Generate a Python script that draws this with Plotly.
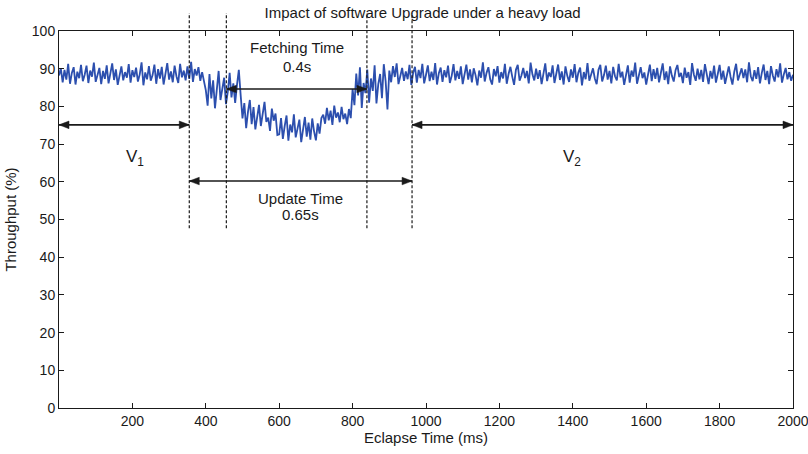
import plotly.graph_objects as go

# Time axis: one sample every 5 ms from 0 to 2000 ms
time_step_ms = 5

# Throughput (%), 20 samples (100 ms) per row
throughput = [
    88.2, 90.1, 86.4, 89.7, 87.1, 91.3, 86.0, 88.9, 90.4, 85.8, 89.2, 87.5, 91.0, 86.7, 88.4, 90.8, 86.2, 89.5, 87.9, 91.6,
    86.5, 88.8, 90.2, 85.9, 89.4, 87.3, 90.9, 86.1, 88.6, 91.4, 87.0, 89.8, 85.7, 88.1, 90.6, 86.9, 89.1, 87.6, 91.2, 86.3,
    89.6, 87.8, 90.3, 86.6, 88.5, 91.7, 85.6, 89.0, 87.2, 90.7, 86.8, 88.3, 91.1, 86.0, 89.9, 87.4, 90.5, 85.8, 88.7, 91.5,
    87.1, 89.3, 86.4, 90.8, 88.0, 86.2, 91.3, 87.7, 89.5, 86.9, 90.6, 87.3, 91.8, 86.5, 89.9, 88.2, 90.4, 86.8, 89.1, 87.0,
    84.3, 80.2, 88.6, 82.1, 86.9, 79.5, 85.2, 89.4, 81.7, 84.8, 87.6, 80.6, 83.9, 88.9, 82.4, 86.1, 80.9, 85.7, 89.7, 83.0,
    76.8, 80.9, 74.2, 78.6, 81.7, 75.3, 79.8, 73.9, 77.5, 80.4, 74.8, 78.1, 81.2, 75.9, 77.0, 73.5, 79.4, 76.2, 78.1, 72.4,
    72.6, 76.9, 71.4, 74.8, 77.6, 70.9, 75.2, 73.1, 77.9, 71.8, 74.3, 76.5, 70.5, 73.8, 77.2, 72.0, 75.7, 71.2, 76.8, 73.4,
    71.0, 75.5, 72.8, 76.9, 77.8, 75.4, 79.6, 76.3, 78.9, 75.1, 80.2, 77.0, 78.4, 75.8, 79.9, 76.6, 78.1, 75.3, 79.3, 76.9,
    84.6, 80.3, 88.7, 82.9, 90.4, 79.6, 86.2, 83.5, 89.8, 81.0, 87.4, 84.1, 90.9, 80.8, 85.9, 88.6, 82.2, 91.2, 86.7, 79.2,
    89.5, 86.4, 90.7, 87.8, 91.4, 85.9, 88.6, 90.2, 86.8, 89.3, 87.2, 91.0, 85.7, 88.9, 90.5, 86.3, 89.7, 87.5, 91.3, 86.1,
    88.4, 90.9, 86.7, 89.2, 87.0, 91.5, 85.8, 88.8, 90.3, 86.5, 89.6, 87.7, 90.8, 86.2, 88.1, 91.2, 86.9, 89.4, 87.3, 90.6,
    85.9, 88.7, 91.1, 87.1, 89.8, 86.4, 90.1, 88.3, 85.6, 89.5, 87.6, 91.7, 86.6, 88.9, 90.4, 87.2, 85.8, 89.9, 88.0, 90.7,
    86.3, 89.1, 87.4, 91.3, 86.0, 88.6, 90.5, 87.9, 85.7, 89.7, 91.0, 86.8, 88.2, 90.2, 87.5, 89.4, 86.1, 91.6, 88.5, 86.9,
    90.0, 87.3, 89.6, 85.9, 88.8, 91.4, 86.7, 89.0, 87.8, 90.9, 86.2, 88.4, 91.1, 87.0, 89.3, 85.8, 90.6, 88.1, 86.5, 89.8,
    87.6, 91.2, 86.4, 88.9, 90.3, 85.6, 89.1, 87.2, 91.5, 86.8, 88.6, 90.1, 87.4, 85.9, 89.7, 91.0, 86.6, 88.3, 90.8, 87.1,
    89.4, 86.1, 90.5, 88.0, 86.9, 91.3, 87.7, 89.2, 85.7, 88.7, 90.9, 86.3, 89.5, 87.9, 91.6, 86.0, 88.2, 90.4, 87.5, 89.0,
    85.8, 88.5, 91.1, 86.7, 89.9, 87.3, 90.2, 86.4, 88.8, 91.4, 87.0, 89.3, 85.9, 90.6, 88.1, 86.6, 89.6, 91.0, 87.8, 88.9,
    86.2, 90.3, 87.6, 89.1, 85.7, 91.5, 88.4, 86.8, 90.0, 87.2, 89.7, 86.5, 91.2, 88.0, 85.9, 89.4, 87.4, 90.8, 86.3, 88.6,
    91.0, 87.1, 89.5, 86.0, 88.7, 90.6, 87.8, 85.8, 89.2, 91.3, 86.9, 88.3, 90.1, 87.5, 89.8, 86.4, 91.7, 88.0, 86.7, 89.6,
    87.3, 90.4, 86.1, 88.9, 91.1, 87.0, 89.4, 85.9, 90.7, 88.2, 86.6, 89.9, 87.7, 91.4, 86.3, 88.5, 90.2, 87.2, 89.1, 86.8,
    88.4,
]
time_ms = [i * time_step_ms for i in range(len(throughput))]

# Event markers (ms)
event_times = [355, 456, 839, 962]
x_ticks = [200, 400, 600, 800, 1000, 1200, 1400, 1600, 1800, 2000]
y_ticks = [0, 10, 20, 30, 40, 50, 60, 70, 80, 90, 100]

# double-headed arrows: (start ms, end ms, level %)
arrows = [
    (0, 355, 75.1),      # V1
    (962, 2000, 75.1),   # V2
    (355, 962, 60.2),    # Update time
    (456, 839, 84.6),    # Fetching time
]

texts = [
    (208, 66.3, "V<sub>1</sub>", 17),
    (1397, 66.3, "V<sub>2</sub>", 17),
    (648, 95.5, "Fetching Time", 15),
    (648, 90.7, "0.4s", 15),
    (658, 55.7, "Update Time", 15),
    (658, 51.2, "0.65s", 15),
]

FONT = "Liberation Sans, Arial, sans-serif"
INK = "#1a1a1a"

fig = go.Figure()
fig.add_trace(go.Scatter(
    x=time_ms, y=throughput, mode="lines",
    line=dict(color="#2c4fae", width=1.8), showlegend=False, hoverinfo="skip",
))

# dashed vertical event lines (extend above the plot)
for t in event_times:
    fig.add_shape(type="line", xref="x", yref="paper", x0=t, x1=t, y0=0.477, y1=1.048,
                  line=dict(color=INK, width=1.2, dash="3px,2px"))

# arrows: shaft + filled triangular heads (heads sized in pixels)
HEAD_L, HEAD_W = 10, 3.8
for x0, x1, yv in arrows:
    fig.add_shape(type="line", xref="x", yref="y", x0=x0, x1=x1, y0=yv, y1=yv,
                  line=dict(color=INK, width=1.6))
    for xa, d in ((x1, -1), (x0, 1)):
        fig.add_shape(type="path", xref="x", yref="y",
                      xsizemode="pixel", ysizemode="pixel", xanchor=xa, yanchor=yv,
                      path=f"M 0 0 L {d*HEAD_L} {HEAD_W} L {d*HEAD_L} {-HEAD_W} Z",
                      fillcolor=INK, line=dict(color=INK, width=0.5))

for x, y, s, fs in texts:
    fig.add_annotation(x=x, y=y, xref="x", yref="y", text=s, showarrow=False,
                       font=dict(family=FONT, size=fs, color=INK))

fig.update_layout(
    width=808, height=454,
    margin=dict(l=59, r=15, t=31, b=46),
    paper_bgcolor="white", plot_bgcolor="white",
    font=dict(family=FONT, size=14, color=INK),
    title=dict(text="Impact of software Upgrade under a heavy load", x=0.523, xanchor="center",
               y=0.972, yanchor="middle", font=dict(family=FONT, size=15, color=INK)),
    showlegend=False,
)
fig.update_xaxes(
    range=[0, 2000.01], tickvals=x_ticks, ticks="inside", ticklen=5, tickcolor=INK,
    showline=True, linecolor=INK, linewidth=1, mirror="ticks", showgrid=False, zeroline=False,
    automargin=False, ticklabeloverflow="allow",
    title=dict(text="Eclapse Time (ms)", standoff=3, font=dict(size=15)),
    tickfont=dict(size=14),
)
fig.update_yaxes(
    range=[0, 100], tickvals=y_ticks, ticks="inside", ticklen=5, tickcolor=INK,
    showline=True, linecolor=INK, linewidth=1, mirror="ticks", showgrid=False, zeroline=False,
    automargin=False, ticklabeloverflow="allow",
    title=dict(text="Throughput (%)", standoff=11, font=dict(size=15)),
    tickfont=dict(size=14),
)

fig.write_html("out.html", config={"displayModeBar": False},
               post_script="document.body.style.margin='0';")
